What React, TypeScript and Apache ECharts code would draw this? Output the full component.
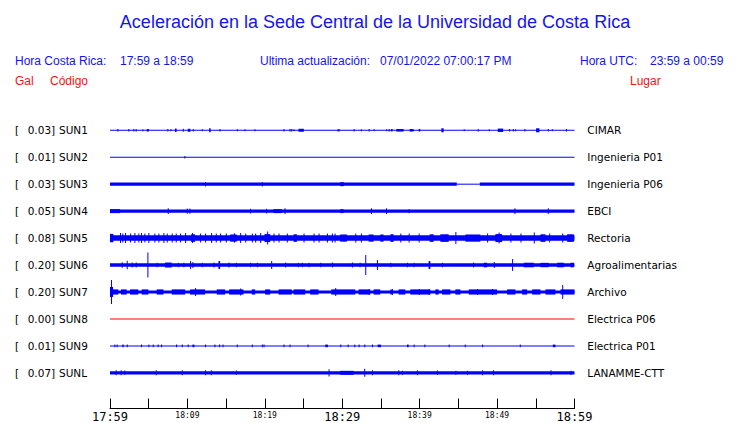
import React, { useEffect, useRef } from "react";
import * as echarts from "echarts";

const TITLE = "Aceleración en la Sede Central de la Universidad de Costa Rica";
const CODES = ["SUN1", "SUN2", "SUN3", "SUN4", "SUN5", "SUN6", "SUN7", "SUN8", "SUN9", "SUNL"];
const GAL = ["0.03", "0.01", "0.03", "0.05", "0.08", "0.20", "0.20", "0.00", "0.01", "0.07"];
const PLACES = ["CIMAR", "Ingenieria P01", "Ingenieria P06", "EBCI", "Rectoria", "Agroalimentarias", "Archivo", "Electrica P06", "Electrica P01", "LANAMME-CTT"];
const TRACE_COLORS = ["#0000ff", "#0000ff", "#0000ff", "#0000ff", "#0000ff", "#0000ff", "#0000ff", "#ff0000", "#0000ff", "#0000ff"];

// minutes after 17:59
const TIME_TICKS = [0, 10, 20, 30, 40, 50, 60];
const TIME_LABELS = ["17:59", "18:09", "18:19", "18:29", "18:39", "18:49", "18:59"];
const BIG_TICKS = [0, 30, 60];

// each trace: [startMinute, endMinute, halfAmplitude]
const SUN1_TRACE = [
  [0, 60, 0.5],
  [0.95, 0.95, 1.3], [2.37, 2.37, 1.2], [3.02, 3.02, 1.3], [3.32, 3.32, 1.2], [4.18, 4.18, 1.0], [4.74, 5.04, 1.2],
  [7.41, 7.41, 1.2], [7.8, 7.8, 1.0], [8.4, 8.6, 1.7], [9.4, 9.4, 1.5], [10.04, 10.39, 1.5], [10.69, 10.69, 1.3],
  [11.85, 11.85, 1.0], [12.8, 13.0, 2.0], [14.14, 14.14, 1.2], [16.38, 16.38, 1.0], [17.37, 17.37, 1.0],
  [18.66, 18.66, 1.0], [22.41, 22.41, 1.2], [23.19, 23.19, 1.3], [23.41, 23.41, 1.3], [23.71, 23.71, 1.0],
  [24.35, 25.04, 1.5], [29.4, 29.4, 1.3], [29.53, 29.53, 1.3], [31.47, 31.47, 1.3], [32.41, 32.41, 1.0],
  [33.41, 33.41, 1.3], [34.05, 34.05, 1.0], [35.69, 35.69, 1.0], [36.0, 36.0, 1.2], [36.29, 36.51, 1.2],
  [36.98, 37.93, 1.3], [38.71, 39.22, 1.3], [39.87, 40.09, 1.2], [42.8, 43.1, 2.0], [45.69, 45.69, 1.0],
  [47.5, 47.5, 1.2], [48.92, 48.92, 1.0], [50.09, 50.78, 1.7], [51.55, 51.55, 1.2], [52.03, 52.03, 1.2],
  [52.33, 52.33, 1.0], [53.53, 53.53, 1.2], [55.04, 55.47, 2.0], [56.55, 56.55, 1.2], [57.07, 57.07, 1.0],
  [58.9, 58.9, 1.2],
];
const SUN2_TRACE = [[0, 60, 0.5], [9.61, 9.61, 1.2]];
const SUN3_TRACE = [
  [0, 44.8, 1.6], [44.8, 47.76, 0.5], [47.76, 60, 1.6],
  [29.74, 30.2, 2.0], [12.28, 12.28, 2.3], [19.61, 19.61, 2.3],
];
const SUN4_TRACE = [
  [0, 60, 1.7], [0, 1.3, 2.0], [7.46, 7.46, 3], [9.91, 9.91, 2.7], [10.26, 10.26, 2.7], [18.1, 18.1, 2.5],
  [20.17, 20.17, 2.3], [21.12, 22.2, 2.0], [22.54, 22.54, 3], [29.74, 30.17, 2.0], [33.71, 33.71, 3],
  [35.65, 35.65, 3], [38.58, 38.58, 2.2], [52.24, 52.24, 3], [56.55, 56.55, 3],
];
const SUN5_TRACE = [
  [0, 60, 2.8],
  [0, 0.43, 4.2], [1.29, 1.29, 5], [1.59, 1.59, 4.5], [1.94, 1.94, 5], [2.59, 2.59, 4.5], [3.15, 3.15, 5],
  [3.66, 3.66, 4.5], [4.01, 4.01, 5], [4.44, 4.44, 4.5], [4.96, 4.96, 5], [5.73, 5.73, 4.5], [6.25, 6.25, 4.5],
  [6.9, 6.9, 5], [7.33, 7.33, 4.5], [7.97, 7.97, 4.5], [8.49, 8.49, 4.5], [9.05, 9.05, 4.5], [9.7, 9.7, 5],
  [10.47, 10.99, 3.8], [10.6, 10.6, 5], [11.64, 11.64, 4.5], [12.28, 12.28, 4.5], [13.06, 13.06, 5], [13.66, 13.66, 4.5],
  [14.22, 14.22, 4.5], [14.96, 14.96, 4.5], [15.52, 16.38, 3.6], [16.0, 16.0, 4.8], [16.81, 16.81, 5], [17.46, 17.46, 4.5],
  [18.32, 18.32, 4.5], [18.75, 18.75, 4.5], [19.4, 19.4, 5], [19.96, 20.69, 4], [20.3, 20.3, 6.5],
  [21.12, 21.12, 4.5], [21.77, 21.77, 4.5], [22.84, 22.84, 4.5], [23.71, 24.14, 3.8], [25.0, 25.0, 4.5],
  [26.29, 26.29, 4.5], [26.94, 26.94, 4.5], [28.02, 28.02, 4.5], [28.66, 28.66, 4.5], [29.01, 29.01, 4.5],
  [29.74, 30.6, 3.6], [31.68, 31.68, 4.5], [32.41, 32.41, 4.5], [33.41, 34.05, 3.6], [34.91, 35.34, 3.6],
  [36.21, 36.64, 3.8], [37.5, 37.5, 4.5], [38.58, 38.58, 4.5], [39.87, 39.87, 4.5], [41.29, 41.81, 3.8],
  [42.67, 43.75, 3.8], [44.61, 44.61, 6], [45.91, 47.84, 3.6], [48.71, 48.71, 4.5], [49.78, 50.65, 4],
  [50.2, 50.2, 5.5], [51.72, 51.72, 4.5], [53.02, 53.02, 4.5], [54.74, 54.74, 5.5], [55.6, 56.25, 3.8], [56.73, 56.73, 4.5],
  [58.41, 58.41, 4.5], [59.05, 59.91, 3.8],
];
const SUN6_TRACE = [
  [0, 60, 1.7],
  [1.51, 1.51, 2.7], [2.16, 2.16, 4.3], [2.8, 2.8, 2.5], [3.32, 3.32, 2.5], [4.83, 4.83, 12.5], [6.03, 6.03, 2.2],
  [7.11, 7.97, 2.5], [8.75, 8.75, 2.2], [9.48, 9.48, 2.2], [10.34, 10.34, 4], [10.65, 10.65, 3],
  [11.85, 11.85, 2.2], [13.36, 13.36, 2.5], [14.01, 14.22, 4], [15.3, 15.3, 2.5], [16.25, 16.25, 2.2],
  [18.1, 18.1, 2.2], [18.97, 18.97, 2.2], [20.82, 20.82, 4], [22.63, 22.63, 2.5], [24.27, 24.27, 2.2],
  [24.78, 24.78, 2.2], [25.65, 25.65, 2.2], [27.16, 27.16, 2.2], [28.66, 28.66, 2.5], [31.25, 31.25, 2.5],
  [32.24, 32.24, 2.2], [32.97, 32.97, 10], [34.48, 34.48, 5], [36.21, 36.21, 2.2], [38.36, 38.36, 2.2],
  [39.22, 39.22, 2.2], [41.16, 41.38, 4], [42.89, 42.89, 2.2], [46.9, 46.9, 2.5], [48.28, 48.71, 2.3],
  [49.57, 49.57, 3], [51.94, 51.94, 6], [53.45, 54.74, 2.3], [55.6, 56.68, 2.2], [57.76, 58.62, 2.3],
  [59.48, 59.91, 2.3],
];
const SUN7_TRACE = [
  [0, 60, 1.6],
  [0, 1.08, 2.6], [1.42, 2.16, 2.6], [2.59, 3.66, 2.6], [4.09, 4.96, 2.6], [6.03, 6.9, 2.6], [7.97, 9.7, 2.6],
  [10.34, 12.28, 2.6], [13.79, 14.87, 2.6], [15.39, 17.24, 2.6], [18.32, 18.75, 2.6], [20.04, 20.69, 2.6],
  [21.77, 23.49, 2.6], [23.71, 25.22, 2.6], [25.86, 26.94, 2.6], [28.58, 31.68, 2.6], [32.11, 33.62, 2.6],
  [34.05, 34.91, 2.6], [36.21, 36.42, 2.6], [37.28, 38.15, 2.6], [38.79, 41.38, 2.6], [42.03, 42.46, 2.6],
  [42.89, 43.97, 2.6], [44.61, 45.26, 2.6], [46.34, 50.0, 2.6], [51.29, 52.37, 2.6], [53.23, 53.88, 2.6],
  [54.53, 55.6, 2.6], [56.25, 57.54, 2.6], [58.19, 60, 2.6],
  [0, 0.4, 5], [0.13, 0.13, 12], [10.99, 10.99, 4], [16.81, 16.81, 3.5], [29.09, 29.09, 4], [33.41, 33.41, 3],
  [36.42, 36.42, 3], [39.87, 39.87, 3], [41.16, 41.16, 3], [47.41, 47.41, 3], [49.35, 49.35, 3],
  [58.41, 58.41, 7],
];
const SUN8_TRACE = [[0, 60, 0.5]];
const SUN9_TRACE = [
  [0, 60, 0.5],
  [0.56, 0.56, 1.3], [0.86, 0.86, 1.3], [1.59, 1.77, 1.3], [2.16, 2.16, 1.3], [4.01, 4.01, 1.3], [4.96, 4.96, 1.3],
  [5.52, 5.52, 1.3], [6.16, 6.16, 1.3], [6.59, 6.59, 1.3], [8.53, 8.53, 1.3], [9.27, 9.27, 1.3],
  [10.04, 10.04, 1.3], [10.65, 10.91, 1.3], [12.28, 12.28, 1.3], [13.49, 13.49, 1.3], [14.09, 14.09, 1.3],
  [14.53, 14.53, 1.3], [16.38, 16.38, 1.3], [18.32, 18.32, 1.3], [19.61, 19.61, 1.3], [19.83, 19.83, 1.3],
  [22.41, 22.41, 1.3], [23.19, 23.19, 1.3], [25.52, 25.52, 1.3], [27.8, 28.15, 1.3], [29.74, 29.74, 1.3],
  [30.69, 30.69, 1.3], [31.55, 31.55, 1.3], [32.11, 32.11, 1.3], [32.84, 32.84, 1.3], [33.84, 33.84, 1.3],
  [34.57, 35.0, 1.3], [38.36, 38.58, 1.3], [39.22, 39.22, 1.3], [40.6, 40.6, 1.3], [43.75, 43.75, 1.3],
  [45.82, 45.82, 1.3], [48.06, 48.06, 1.3], [52.93, 52.93, 1.3], [57.2, 57.54, 1.3],
];
const SUNL_TRACE = [
  [0, 60, 1.7],
  [0.73, 0.73, 2.5], [1.38, 1.38, 2.5], [1.85, 1.85, 2.3], [5.91, 5.91, 2.5], [9.27, 9.27, 2.5],
  [12.28, 12.28, 2.5], [13.02, 13.02, 2.5], [16.25, 16.25, 2.3], [28.23, 28.23, 3.7], [29.74, 31.47, 2.0],
  [32.84, 32.84, 4], [33.84, 33.84, 2.5], [37.24, 37.24, 2.5], [37.72, 37.72, 2.2], [39.65, 39.65, 2.5],
  [42.24, 42.24, 2.3], [44.61, 44.61, 2.2], [46.12, 46.12, 2.2], [48.06, 48.06, 2.5], [49.48, 49.48, 2.5],
  [56.9, 56.9, 2.5], [59.48, 59.48, 2.2],
];
const TRACES = [SUN1_TRACE, SUN2_TRACE, SUN3_TRACE, SUN4_TRACE, SUN5_TRACE, SUN6_TRACE, SUN7_TRACE, SUN8_TRACE, SUN9_TRACE, SUNL_TRACE];

const ROW = 27;

export default function App() {
  const ref = useRef<HTMLDivElement>(null);
  useEffect(() => {
    document.body.style.margin = "0";
    if (!ref.current) return;
    const chart = echarts.init(ref.current, undefined, { renderer: "svg" });
    const header = "12px 'Liberation Sans', Arial, sans-serif";
    const txt = (text: string, x: number, y: number, fill: string, font = header, align = "left") => ({
      type: "text",
      x,
      y,
      silent: true,
      style: { text, fill, font, align, verticalAlign: "middle" },
    });
    const series = TRACES.map((trace, row) => ({
      type: "custom",
      name: CODES[row],
      xAxisIndex: 0,
      yAxisIndex: 0,
      clip: false,
      data: trace,
      renderItem: (params: any, api: any) => {
        const t0 = api.value(0);
        const t1 = api.value(1);
        const amp = api.value(2);
        const c = row * ROW;
        const a = api.coord([t0, c - amp]);
        const b = api.coord([t1, c + amp]);
        const x = Math.min(a[0], b[0]);
        const w = Math.max(Math.abs(b[0] - a[0]), 1);
        const y = Math.min(a[1], b[1]);
        const h = Math.max(Math.abs(b[1] - a[1]), 1);
        return { type: "rect", shape: { x, y, width: w, height: h }, style: { fill: TRACE_COLORS[row] } };
      },
    }));
    const labelFont = { fontFamily: "'DejaVu Sans'", fontSize: 10.5, color: "#000" };
    chart.setOption({
      animation: false,
      backgroundColor: "#fff",
      grid: { left: 110, right: 165.5, top: 116.8, height: 270 },
      xAxis: {
        type: "value",
        min: 0,
        max: 60,
        interval: 5,
        offset: 22.2,
        axisLine: { show: true, onZero: false, lineStyle: { color: "#000", width: 1 } },
        axisTick: { show: true, inside: true, length: 10, lineStyle: { color: "#000", width: 1 } },
        splitLine: { show: false },
        axisLabel: {
          margin: 2,
          showMinLabel: true,
          showMaxLabel: true,
          formatter: (v: number) => {
            const i = TIME_TICKS.indexOf(v);
            if (i < 0) return "";
            return BIG_TICKS.includes(v) ? `{big|${TIME_LABELS[i]}}` : `{small|${TIME_LABELS[i]}}`;
          },
          rich: {
            big: { fontFamily: "'DejaVu Sans Mono'", fontSize: 12, lineHeight: 13, color: "#000" },
            small: { fontFamily: "'DejaVu Sans Mono'", fontSize: 8, lineHeight: 9, color: "#000" },
          },
        },
      },
      yAxis: [
        { type: "value", show: false, min: -13.5, max: 256.5, inverse: true },
        {
          type: "category",
          position: "left",
          inverse: true,
          data: CODES,
          axisLine: { show: false },
          axisTick: { show: false },
          splitLine: { show: false },
          axisLabel: {
            align: "left",
            margin: 95,
            formatter: (v: string, i: number) => `{b|[}{v|${GAL[i]}]}{c|${v}}`,
            rich: {
              b: { ...labelFont, width: 12.7 },
              v: { ...labelFont, width: 31.3 },
              c: { ...labelFont },
            },
          },
        },
        {
          type: "category",
          position: "right",
          inverse: true,
          data: PLACES,
          axisLine: { show: false },
          axisTick: { show: false },
          splitLine: { show: false },
          axisLabel: { align: "left", margin: 12.8, ...labelFont },
        },
      ],
      graphic: [
        txt(TITLE, 375, 22, "#1414f0", "18px 'Liberation Sans', Arial, sans-serif", "center"),
        txt("Hora Costa Rica:", 15, 61, "#1414f0"),
        txt("17:59 a 18:59", 120, 61, "#1414f0"),
        txt("Ultima actualización:", 260, 61, "#1414f0"),
        txt("07/01/2022 07:00:17 PM", 380, 61, "#1414f0"),
        txt("Hora UTC:", 580, 61, "#1414f0"),
        txt("23:59 a 00:59", 650, 61, "#1414f0"),
        txt("Gal", 15, 81, "#f01414"),
        txt("Código", 50, 81, "#f01414"),
        txt("Lugar", 630, 81, "#f01414"),
      ],
      series,
    });
    return () => chart.dispose();
  }, []);
  return <div ref={ref} style={{ width: 740, height: 423 }} />;
}
